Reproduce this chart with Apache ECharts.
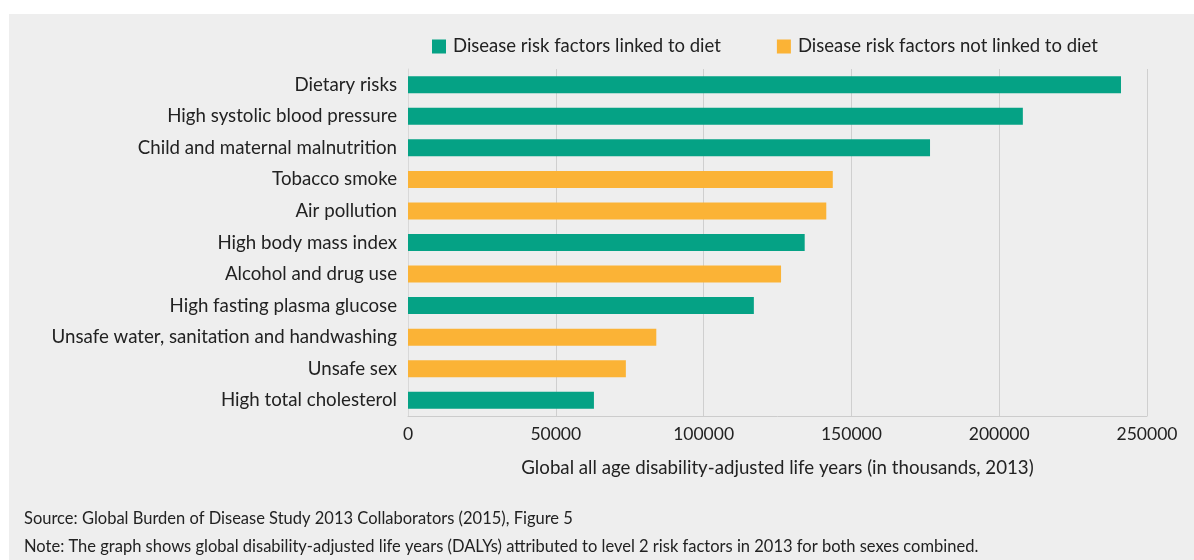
<!DOCTYPE html>
<html>
<head>
<meta charset="utf-8">
<script src="https://cdn.jsdelivr.net/npm/echarts@6/dist/echarts.min.js"></script>
<style>
html,body{margin:0;padding:0;background:#fff;}
#c{width:1194px;height:560px;}
</style>
</head>
<body>
<div id="c"></div>
<script>
const categories = [
  "Dietary risks",
  "High systolic blood pressure",
  "Child and maternal malnutrition",
  "Tobacco smoke",
  "Air pollution",
  "High body mass index",
  "Alcohol and drug use",
  "High fasting plasma glucose",
  "Unsafe water, sanitation and handwashing",
  "Unsafe sex",
  "High total cholesterol"
];
const values = [241200, 208000, 176600, 143700, 141500, 134200, 126200, 117000, 84000, 73700, 62900];
const linkedToDiet = [true, true, true, false, false, true, false, true, false, false, true];
const seriesNames = ["Disease risk factors linked to diet", "Disease risk factors not linked to diet"];
const xTicks = [0, 50000, 100000, 150000, 200000, 250000];
const axisTitle = "Global all age disability-adjusted life years (in thousands, 2013)";
const sourceText = "Source: Global Burden of Disease Study 2013 Collaborators (2015), Figure 5";
const noteText = "Note: The graph shows global disability-adjusted life years (DALYs) attributed to level 2 risk factors in 2013 for both sexes combined.";

const GREEN = "#05a285";
const ORANGE = "#fbb336";
const FONT = "Lato";

const linkedData = values.map((v, i) => linkedToDiet[i] ? v : '-');
const notLinkedData = values.map((v, i) => linkedToDiet[i] ? '-' : v);

const chart = echarts.init(document.getElementById('c'), null, {renderer: 'canvas'});
chart.setOption({
  backgroundColor: '#ffffff',
  animation: false,
  textStyle: {fontFamily: FONT},
  graphic: [{
    type: 'rect', z: -10, silent: true,
    shape: {x: 9, y: 14, width: 1185, height: 546},
    style: {fill: '#eeeeee'}
  }],
  title: [
    {text: sourceText, left: 19, top: 505, textStyle: {fontFamily: FONT, fontSize: 16.5, fontWeight: 'normal', color: '#222'}},
    {text: noteText, left: 19, top: 533, textStyle: {fontFamily: FONT, fontSize: 16.5, fontWeight: 'normal', color: '#222'}}
  ],
  legend: {
    left: 427, top: 32,
    itemWidth: 14, itemHeight: 14, itemGap: 56,
    icon: 'rect',
    textStyle: {fontFamily: FONT, fontSize: 18.5, color: '#222', padding: [0, 0, 0, 2]},
    data: seriesNames
  },
  grid: {left: 408, right: 47, top: 69, bottom: 144, containLabel: false},
  xAxis: {
    type: 'value', min: xTicks[0], max: xTicks[xTicks.length - 1], interval: xTicks[1] - xTicks[0],
    name: axisTitle, nameLocation: 'middle', nameGap: 42,
    nameTextStyle: {fontFamily: FONT, fontSize: 18.7, color: '#222'},
    axisLine: {show: true, lineStyle: {color: '#cccccc'}},
    axisTick: {show: false},
    axisLabel: {fontFamily: FONT, fontSize: 17.5, color: '#222', margin: 9, formatter: v => String(v)},
    splitLine: {show: true, lineStyle: {color: '#cfcfcf', width: 1}}
  },
  yAxis: {
    type: 'category', inverse: true, data: categories,
    axisLine: {show: true, lineStyle: {color: '#d8d8d8'}},
    axisTick: {show: false},
    axisLabel: {fontFamily: FONT, fontSize: 18.7, color: '#222', margin: 11}
  },
  series: [
    {name: seriesNames[0], type: 'bar', stack: 'a', data: linkedData, barWidth: 17,
     itemStyle: {color: GREEN}},
    {name: seriesNames[1], type: 'bar', stack: 'a', data: notLinkedData, barWidth: 17,
     itemStyle: {color: ORANGE}}
  ]
});
</script>
</body>
</html>
